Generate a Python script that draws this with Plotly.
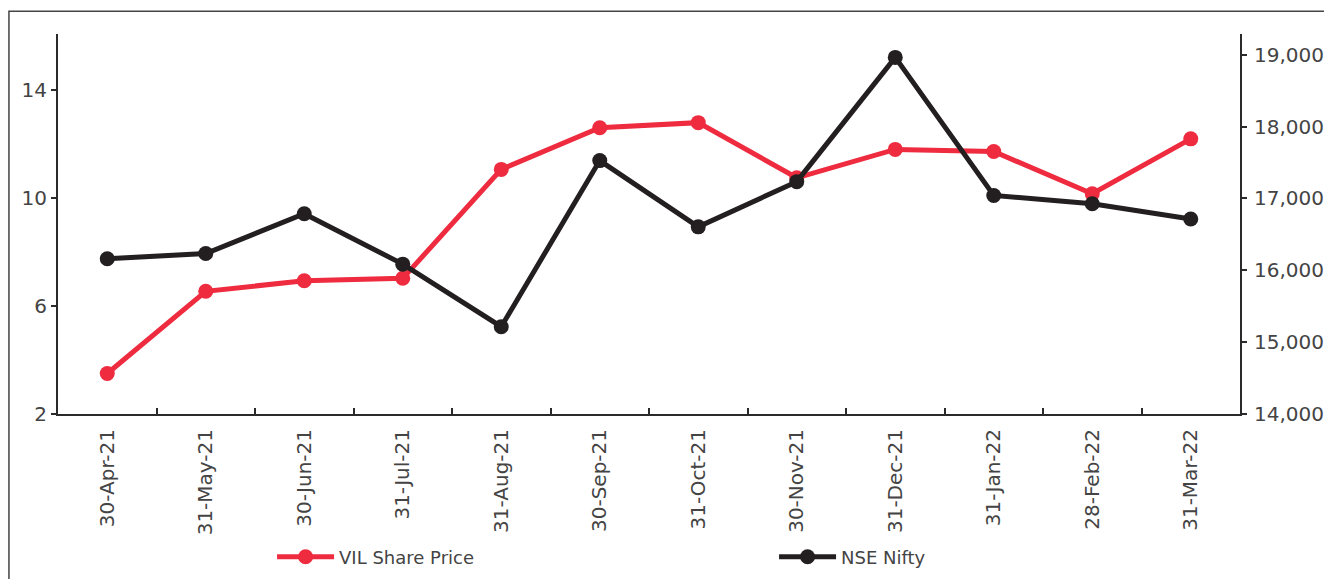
import plotly.graph_objects as go

months = ["30-Apr-21", "31-May-21", "30-Jun-21", "31-Jul-21", "31-Aug-21", "30-Sep-21",
          "31-Oct-21", "30-Nov-21", "31-Dec-21", "31-Jan-22", "28-Feb-22", "31-Mar-22"]
vil_price = [3.50, 6.54, 6.93, 7.02, 11.05, 12.59, 12.78, 10.74, 11.79, 11.71, 10.15, 12.18]
nse_nifty = [16161, 16234, 16788, 16086, 15215, 17527, 16605, 17234, 18963, 17042, 16926, 16715]

left_ticks = [2, 6, 10, 14]
right_ticks = [14000, 15000, 16000, 17000, 18000, 19000]

RED = "#EE2B3F"
BLACK = "#231F20"
AXIS = "#2a2a2a"
TXT = "#444444"
FONT = "DejaVu Sans"

fig = go.Figure()
fig.add_trace(go.Scatter(
    x=months, y=vil_price, name="VIL Share Price", mode="lines+markers",
    line=dict(color=RED, width=5), marker=dict(color=RED, size=15),
    xaxis="x", yaxis="y", legend="legend"))
fig.add_trace(go.Scatter(
    x=months, y=nse_nifty, name="NSE Nifty", mode="lines+markers",
    line=dict(color=BLACK, width=5), marker=dict(color=BLACK, size=15),
    xaxis="x", yaxis="y2", legend="legend2"))

L_RANGE = [2, 16.06]
R_RANGE = [14000, 19289]

leg_common = dict(orientation="h", xanchor="left", y=-0.3765, yanchor="middle",
                  itemwidth=57, font=dict(family=FONT, size=18, color=TXT),
                  bgcolor="rgba(0,0,0,0)")

fig.update_layout(
    width=1332, height=579,
    margin=dict(l=50, r=100, t=26, b=168),
    paper_bgcolor="white", plot_bgcolor="white",
    font=dict(family=FONT, size=20, color=TXT),
    showlegend=True,
    legend=dict(x=0.1811, **leg_common),
    legend2=dict(x=0.6058, **leg_common),
    xaxis=dict(type="category", range=[-0.5, 11.5], showgrid=False, zeroline=False,
               showline=True, linecolor=AXIS, linewidth=2,
               ticks="inside", tickson="boundaries", ticklen=6, tickwidth=2, tickcolor=AXIS,
               tickangle=-90, ticklabelstandoff=5,
               tickfont=dict(family=FONT, size=20, color=TXT)),
    yaxis=dict(range=L_RANGE, tickvals=left_ticks, showgrid=False, zeroline=False,
               showline=True, linecolor=AXIS, linewidth=2,
               ticks="outside", ticklen=5, tickwidth=2, tickcolor=AXIS,
               tickfont=dict(family=FONT, size=20, color=TXT)),
    yaxis2=dict(range=R_RANGE, tickvals=right_ticks, tickformat=",", overlaying="y",
                side="right", anchor="x", showgrid=False, zeroline=False,
                showline=True, linecolor=AXIS, linewidth=2,
                ticks="outside", ticklen=5, tickwidth=2, tickcolor=AXIS,
                ticklabelstandoff=3,
                tickfont=dict(family=FONT, size=20, color=TXT)),
    yaxis3=dict(range=L_RANGE, tickvals=left_ticks, overlaying="y", side="left", anchor="x",
                showgrid=False, zeroline=False, showline=False, showticklabels=False,
                ticks="inside", ticklen=5, tickwidth=2, tickcolor=AXIS),
    yaxis4=dict(range=R_RANGE, tickvals=right_ticks, overlaying="y", side="right", anchor="x",
                showgrid=False, zeroline=False, showline=False, showticklabels=False,
                ticks="inside", ticklen=5, tickwidth=2, tickcolor=AXIS),
    shapes=[dict(type="rect", xref="paper", yref="paper",
                 x0=-0.0415, x1=1.2, y0=-0.6, y1=1.0599,
                 line=dict(color="#444444", width=1.5), layer="below")],
)

fig.write_html("out.html")
